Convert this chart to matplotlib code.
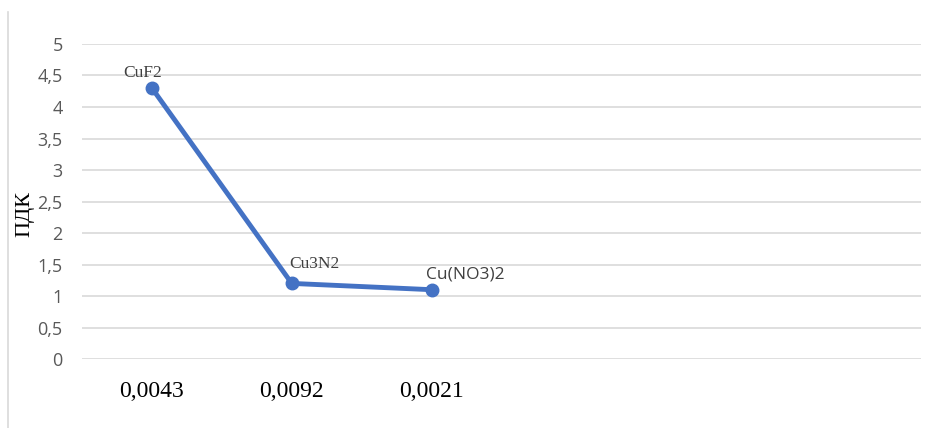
import matplotlib
matplotlib.use("Agg")
import matplotlib.pyplot as plt
from matplotlib.lines import Line2D

# data
categories = ["0,0043", "0,0092", "0,0021", "", "", ""]
pdk = [4.3, 1.2, 1.1]
point_labels = ["CuF2", "Cu3N2", "Cu(NO3)2"]
y_ticks = [0, 0.5, 1, 1.5, 2, 2.5, 3, 3.5, 4, 4.5, 5]
y_ticklabels = ["0", "0,5", "1", "1,5", "2", "2,5", "3", "3,5", "4", "4,5", "5"]

fig = plt.figure(figsize=(9.33, 4.28), dpi=100)
ax = fig.add_axes([0.0879, 0.1612, 0.8992, 0.736])

x = list(range(len(pdk)))
ax.plot(x, pdk, color="#4472C4", linewidth=3.5, marker="o", markersize=9,
        solid_capstyle="round", zorder=3)

ax.set_xlim(-0.5, len(categories) - 0.5)
ax.set_ylim(0, 5)
ax.set_xticks(range(len(categories)))
ax.set_xticklabels(categories, family="Liberation Serif", fontsize=17, color="black")
ax.set_yticks(y_ticks)
ax.set_yticklabels(y_ticklabels, family="Open Sans", fontsize=13, color="#595959")
ax.tick_params(axis="both", length=0)
ax.tick_params(axis="x", pad=16)
ax.tick_params(axis="y", pad=14)

ax.grid(axis="y", color="#d9d9d9", linewidth=1.2)
ax.set_axisbelow(True)
for s in ax.spines.values():
    s.set_visible(False)

ax.set_ylabel("ПДК", family="Liberation Serif", fontsize=16, color="black")
ax.yaxis.set_label_coords(-0.057, 0.46)

# data labels
ax.annotate(point_labels[0], (x[0], pdk[0]), xytext=(-7, 11), textcoords="offset points",
            ha="center", va="center", family="Liberation Serif", fontsize=12.5, color="#404040")
ax.annotate(point_labels[1], (x[1], pdk[1]), xytext=(16, 14), textcoords="offset points",
            ha="center", va="center", family="Liberation Serif", fontsize=12.5, color="#404040")
ax.annotate(point_labels[2], (x[2], pdk[2]), xytext=(24, 11), textcoords="offset points",
            ha="center", va="center", family="Open Sans", fontsize=12.5, color="#404040")

# chart area frame line on the left
fig.add_artist(Line2D([8 / 933, 8 / 933], [0, 1 - 12 / 428], color="#d9d9d9", linewidth=1.2))

fig.savefig("out.png", dpi=100)
